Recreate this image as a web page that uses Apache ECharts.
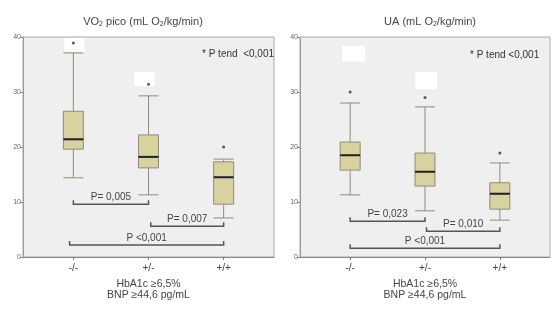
<!DOCTYPE html>
<html>
<head>
<meta charset="utf-8">
<script src="https://cdn.jsdelivr.net/npm/echarts@6/dist/echarts.min.js"></script>
<style>
  html, body { margin: 0; padding: 0; background: #fff; }
  #chart { width: 560px; height: 310px; }
</style>
</head>
<body>
<div id="chart"></div>
<script>
// categories (x positions 0, 1, 2)
const categories = ['-/-', '+/-', '+/+'];
const xName = 'HbA1c \u22656,5%\nBNP \u226544,6 pg/mL';

// panel 1: VO2 pico  [x, min, Q1, median, Q3, max]
const vo2Boxes = [
  [0, 14.4, 19.6, 21.4, 26.5, 37.1],
  [1, 11.3, 16.2, 18.2, 22.2, 29.3],
  [2, 7.1, 9.6, 14.5, 17.3, 17.8],
];
const vo2Outliers = [[0, 38.9], [1, 31.4], [2, 20.0]];
// [xFrom, xTo, y, label]
const vo2Brackets = [
  [0, 1, 9.6, 'P= 0,005'],
  [1.03, 2, 5.6, 'P= 0,007'],
  [-0.05, 2, 2.2, 'P <0,001'],
];
// white boxes hiding case labels [x0, x1, yTop, yBottom]
const vo2Masks = [
  [-0.12, 0.15, 39.8, 37.3],
  [0.81, 1.08, 33.6, 31.1],
];

// panel 2: UA
const uaBoxes = [
  [0, 11.3, 15.8, 18.5, 20.9, 28.0],
  [1, 8.4, 12.9, 15.5, 18.9, 27.3],
  [2, 6.7, 8.7, 11.5, 13.5, 17.1],
];
const uaOutliers = [[0, 30.0], [1, 29.0], [2, 18.9]];
const uaBrackets = [
  [0, 1, 6.5, 'P= 0,023'],
  [1.02, 2, 4.7, 'P= 0,010'],
  [0, 2, 1.6, 'P <0,001'],
];
const uaMasks = [
  [-0.11, 0.2, 38.4, 35.5],
  [0.87, 1.16, 33.6, 30.5],
];

const yTicks = [0, 10, 20, 30, 40];
const font = 'Liberation Sans, Arial, sans-serif';

const chart = echarts.init(document.getElementById('chart'));

function makeX(i) {
  return {
    type: 'value',
    gridIndex: i,
    min: -0.67,
    max: 2.67,
    name: xName,
    nameLocation: 'middle',
    nameGap: 20,
    nameTextStyle: { fontFamily: font, fontSize: 10.5, color: '#444', lineHeight: 11.5 },
    axisLine: { onZero: false, lineStyle: { color: '#888' } },
    axisTick: { show: true, length: 3, lineStyle: { color: '#777' }, customValues: [0, 1, 2] },
    axisLabel: {
      customValues: [0, 1, 2],
      formatter: (v) => categories[Math.round(v)],
      fontFamily: font,
      fontSize: 10,
      color: '#444',
      margin: 6,
    },
    splitLine: { show: false },
  };
}

function makeY(i) {
  return {
    type: 'value',
    gridIndex: i,
    position: 'left',
    min: yTicks[0],
    max: yTicks[yTicks.length - 1],
    interval: 10,
    axisLine: { show: true, onZero: false, lineStyle: { color: '#999' } },
    axisTick: { show: true, length: 3, lineStyle: { color: '#888' } },
    axisLabel: { fontFamily: font, fontSize: 7, color: '#666', margin: 2 },
    splitLine: { show: false },
  };
}

function bracketSeries(i, data) {
  return {
    type: 'custom',
    xAxisIndex: i,
    yAxisIndex: i,
    silent: true,
    z: 5,
    data: data,
    renderItem: (params, api) => {
      const a = api.coord([api.value(0), api.value(2)]);
      const b = api.coord([api.value(1), api.value(2)]);
      const label = data[params.dataIndex][3];
      return {
        type: 'group',
        children: [
          {
            type: 'polyline',
            shape: { points: [[a[0], a[1] - 4], [a[0], a[1]], [b[0], b[1]], [b[0], b[1] - 4]] },
            style: { stroke: '#555', lineWidth: 1.5, fill: null },
          },
          {
            type: 'text',
            x: (a[0] + b[0]) / 2,
            y: a[1] - 7,
            style: {
              text: label,
              fill: '#444',
              font: '10px ' + font,
              textAlign: 'center',
              textVerticalAlign: 'middle',
            },
          },
        ],
      };
    },
  };
}

function maskSeries(i, data) {
  return {
    type: 'custom',
    xAxisIndex: i,
    yAxisIndex: i,
    silent: true,
    z: 1,
    data: data,
    renderItem: (params, api) => {
      const p0 = api.coord([api.value(0), api.value(2)]);
      const p1 = api.coord([api.value(1), api.value(3)]);
      return {
        type: 'rect',
        shape: { x: p0[0], y: p0[1], width: p1[0] - p0[0], height: p1[1] - p0[1] },
        style: { fill: '#fff' },
      };
    },
  };
}

// thick dark median bar drawn over each box
function medianSeries(i, data) {
  return {
    type: 'custom',
    xAxisIndex: i,
    yAxisIndex: i,
    silent: true,
    z: 4,
    data: data.map((d) => [d[0], d[3]]),
    renderItem: (params, api) => {
      const c = api.coord([api.value(0), api.value(1)]);
      return {
        type: 'line',
        shape: { x1: c[0] - 10, y1: c[1], x2: c[0] + 10, y2: c[1] },
        style: { stroke: '#222', lineWidth: 2 },
      };
    },
  };
}

function boxSeries(i, data) {
  return {
    type: 'boxplot',
    xAxisIndex: i,
    yAxisIndex: i,
    boxWidth: [20, 20],
    z: 3,
    itemStyle: { color: '#d8d2a0', borderColor: '#8f8c78', borderWidth: 1 },
    data: data,
  };
}

function outlierSeries(i, data) {
  return {
    type: 'scatter',
    xAxisIndex: i,
    yAxisIndex: i,
    symbolSize: 3,
    z: 6,
    itemStyle: { color: '#333' },
    data: data,
  };
}

const titleRich = {
  t: { fontFamily: font, fontSize: 11, fontWeight: 'normal', color: '#444' },
  s: { fontFamily: font, fontSize: 7, fontWeight: 'normal', color: '#444', padding: [5, 0, 0, 0] },
};

const option = {
  animation: false,
  backgroundColor: '#fff',
  title: [
    {
      text: '{t|VO}{s|2}{t| pico (mL O}{s|2}{t|/kg/min)}',
      left: 138, top: 11, textAlign: 'center',
      textStyle: { fontWeight: 'normal', rich: titleRich },
    },
    {
      text: '{t|UA (mL O}{s|2}{t|/kg/min)}',
      left: 425, top: 11, textAlign: 'center',
      textStyle: { fontWeight: 'normal', rich: titleRich },
    },
    {
      text: '* P tend  <0,001',
      left: 197, top: 44,
      textStyle: { fontFamily: font, fontSize: 10, fontWeight: 'normal', color: '#333' },
    },
    {
      text: '* P tend <0,001',
      left: 465, top: 45,
      textStyle: { fontFamily: font, fontSize: 10, fontWeight: 'normal', color: '#333' },
    },
  ],
  grid: [
    { left: 23, top: 37, width: 251, height: 220, show: true, backgroundColor: '#efefef', borderColor: '#aaa', borderWidth: 1 },
    { left: 300, top: 37, width: 250, height: 220, show: true, backgroundColor: '#efefef', borderColor: '#aaa', borderWidth: 1 },
  ],
  xAxis: [makeX(0), makeX(1)],
  yAxis: [makeY(0), makeY(1)],
  series: [
    maskSeries(0, vo2Masks),
    boxSeries(0, vo2Boxes),
    medianSeries(0, vo2Boxes),
    outlierSeries(0, vo2Outliers),
    bracketSeries(0, vo2Brackets),
    maskSeries(1, uaMasks),
    boxSeries(1, uaBoxes),
    medianSeries(1, uaBoxes),
    outlierSeries(1, uaOutliers),
    bracketSeries(1, uaBrackets),
  ],
};

chart.setOption(option);
</script>
</body>
</html>
